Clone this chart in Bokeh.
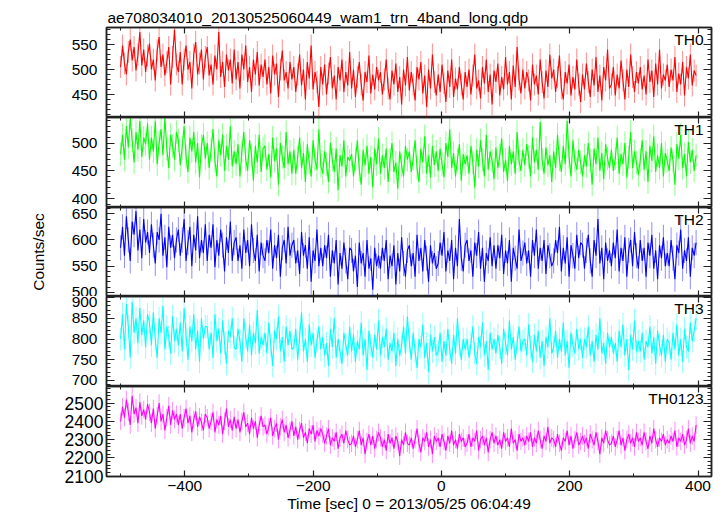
from bokeh.plotting import figure
from bokeh.layouts import column
from bokeh.models import (Range1d, LinearAxis, SingleIntervalTicker, Label,
                          ColumnDataSource)
from bokeh.embed import file_html
from bokeh.resources import INLINE

# ---------------- data ----------------
TITLE = "ae708034010_20130525060449_wam1_trn_4band_long.qdp"
X_LABEL = "Time [sec] 0 = 2013/05/25 06:04:49"
Y_LABEL = "Counts/sec"
BANDS = ["TH0", "TH1", "TH2", "TH3", "TH0123"]
COLORS = ["#ff0000", "#00ff00", "#0000ff", "#00ffff", "#ff00ff"]

TIME_START = -500   # first bin (sec)
TIME_STEP = 3       # bin width used for the read-off values (sec)

TH0 = [505, 548, 512, 490, 535, 560, 518, 545, 498, 530, 575, 508, 540, 495, 528,
       552, 500, 520, 478, 538, 565, 505, 530, 488, 515, 545, 470, 525, 580, 510,
       495, 535, 470, 520, 548, 500, 515, 462, 530, 555, 490, 512, 540, 480, 525,
       545, 488, 510, 470, 528, 500, 575, 485, 515, 465, 530, 498, 520, 472, 540,
       480, 515, 462, 530, 500, 548, 475, 505, 455, 520, 490, 535, 468, 510, 485,
       520, 470, 505, 452, 528, 490, 512, 445, 500, 538, 478, 495, 462, 515, 480,
       505, 455, 490, 530, 468, 500, 440, 515, 482, 548, 460, 495, 475, 425, 505,
       470, 510, 450, 492, 525, 462, 488, 440, 505, 478, 520, 455, 495, 468, 535,
       462, 500, 445, 485, 515, 470, 438, 495, 475, 528, 452, 490, 460, 505, 478,
       495, 450, 480, 520, 462, 440, 498, 470, 512, 455, 485, 430, 500, 468, 525,
       458, 495, 470, 438, 505, 480, 515, 452, 488, 425, 500, 462, 530, 475, 448,
       490, 455, 510, 472, 435, 498, 465, 520, 445, 482, 460, 505, 470, 440, 495,
       465, 500, 450, 488, 530, 462, 478, 442, 505, 472, 520, 455, 490, 430, 498,
       475, 512, 448, 485, 460, 525, 470, 495, 440, 508, 465, 545, 480, 452, 500,
       462, 495, 478, 438, 510, 470, 488, 450, 520, 475, 442, 498, 465, 530, 482,
       500, 455, 485, 528, 462, 440, 495, 472, 510, 448, 485, 460, 520, 470, 435,
       490, 460, 512, 475, 445, 500, 468, 525, 455, 488, 438, 505, 478, 540, 462,
       470, 505, 448, 490, 462, 518, 478, 440, 500, 465, 530, 485, 455, 495, 472,
       505, 460, 488, 450, 520, 475, 498, 445, 512, 470, 540, 462, 490, 478, 510,
       465, 500, 478, 525, 455, 492, 470, 515, 448, 505, 482, 530, 468, 498, 488]

TH1 = [480, 515, 470, 530, 492, 545, 505, 465, 520, 488, 540, 475, 510, 498, 535,
       470, 510, 485, 540, 462, 500, 525, 478, 545, 490, 455, 515, 495, 470, 520,
       505, 460, 492, 530, 475, 448, 510, 485, 520, 465, 500, 438, 495, 515, 472,
       500, 455, 488, 525, 468, 440, 505, 478, 515, 450, 495, 470, 530, 458, 485,
       462, 498, 440, 485, 520, 470, 450, 505, 478, 432, 495, 465, 515, 448, 490,
       495, 452, 480, 438, 510, 468, 490, 425, 500, 475, 455, 520, 462, 485, 445,
       488, 445, 475, 510, 455, 482, 430, 498, 465, 440, 505, 470, 452, 525, 460,
       445, 485, 462, 430, 500, 470, 448, 490, 415, 478, 458, 505, 440, 475, 468,
       480, 440, 470, 505, 452, 425, 488, 460, 495, 445, 475, 420, 490, 462, 508,
       445, 478, 455, 490, 430, 470, 500, 448, 465, 418, 485, 460, 440, 495, 470,
       485, 448, 472, 505, 455, 430, 490, 465, 512, 445, 478, 438, 495, 460, 485,
       450, 490, 462, 438, 500, 475, 525, 455, 482, 440, 470, 498, 432, 480, 462,
       478, 445, 495, 465, 420, 488, 458, 505, 470, 440, 515, 452, 485, 468, 435,
       492, 455, 478, 508, 448, 470, 432, 495, 462, 485, 445, 520, 468, 450, 488,
       460, 498, 475, 440, 510, 465, 488, 452, 538, 470, 445, 492, 460, 478, 430,
       485, 455, 515, 470, 448, 495, 462, 540, 475, 440, 505, 468, 452, 488, 465,
       440, 478, 458, 500, 468, 425, 490, 462, 510, 450, 482, 435, 498, 472, 455,
       488, 450, 472, 510, 445, 480, 462, 500, 438, 475, 520, 455, 485, 465, 442,
       470, 505, 452, 485, 430, 495, 468, 512, 448, 478, 455, 500, 440, 482, 468,
       450, 492, 468, 425, 498, 472, 515, 455, 480, 440, 502, 465, 488, 450, 478]

TH2 = [585, 625, 570, 645, 600, 560, 635, 610, 655, 580, 620, 565, 640, 595, 615,
       575, 630, 590, 555, 615, 600, 650, 570, 605, 548, 625, 585, 610, 565, 600,
       620, 570, 600, 640, 560, 595, 625, 550, 610, 580, 645, 565, 600, 575, 630,
       560, 610, 585, 630, 548, 600, 570, 620, 590, 540, 605, 575, 635, 560, 595,
       605, 560, 590, 545, 620, 575, 600, 550, 630, 580, 560, 610, 540, 595, 570,
       560, 600, 575, 620, 545, 590, 565, 610, 530, 585, 600, 555, 625, 570, 590,
       600, 555, 580, 535, 615, 570, 590, 545, 605, 520, 580, 560, 620, 550, 585,
       550, 590, 565, 610, 530, 580, 555, 600, 515, 575, 545, 595, 560, 525, 585,
       580, 540, 570, 510, 595, 555, 575, 530, 600, 545, 565, 505, 585, 550, 570,
       545, 585, 560, 600, 525, 570, 550, 590, 515, 575, 540, 605, 555, 530, 580,
       590, 550, 575, 530, 610, 560, 585, 540, 600, 565, 520, 590, 555, 575, 545,
       555, 595, 570, 615, 540, 580, 560, 600, 525, 585, 550, 640, 565, 540, 590,
       600, 560, 580, 530, 595, 570, 615, 545, 585, 520, 575, 560, 605, 550, 590,
       545, 590, 565, 610, 535, 580, 555, 600, 520, 585, 565, 545, 620, 560, 575,
       595, 555, 580, 530, 600, 570, 620, 545, 585, 560, 600, 535, 590, 570, 550,
       560, 600, 575, 625, 540, 585, 555, 605, 530, 590, 570, 545, 610, 565, 595,
       590, 545, 580, 610, 560, 530, 600, 570, 640, 555, 585, 525, 595, 560, 580,
       550, 595, 565, 620, 540, 585, 560, 605, 530, 580, 600, 550, 615, 570, 545,
       600, 560, 585, 530, 595, 570, 610, 545, 580, 525, 590, 565, 605, 550, 575,
       550, 600, 565, 525, 590, 575, 620, 545, 580, 560, 605, 530, 585, 570, 595]

TH3 = [800, 860, 775, 885, 830, 755, 890, 815, 850, 790, 875, 810, 845, 780, 860,
       840, 785, 865, 800, 755, 850, 815, 880, 775, 830, 805, 765, 855, 795, 825,
       785, 840, 770, 875, 810, 750, 830, 795, 860, 775, 820, 745, 850, 800, 830,
       830, 775, 815, 755, 860, 795, 825, 765, 845, 790, 740, 820, 805, 850, 780,
       775, 825, 795, 745, 850, 805, 770, 835, 760, 815, 790, 870, 765, 805, 785,
       815, 765, 840, 785, 735, 820, 800, 855, 770, 805, 745, 830, 785, 820, 775,
       780, 825, 750, 805, 865, 770, 800, 745, 835, 785, 815, 755, 795, 830, 775,
       805, 760, 790, 735, 825, 780, 850, 755, 800, 770, 740, 815, 785, 760, 830,
       770, 810, 745, 795, 775, 840, 760, 800, 725, 820, 785, 755, 810, 775, 845,
       760, 805, 780, 825, 750, 790, 770, 815, 735, 800, 760, 785, 830, 765, 855,
       795, 750, 815, 770, 730, 800, 780, 835, 755, 790, 720, 810, 770, 805, 760,
       770, 815, 745, 795, 760, 825, 775, 740, 810, 765, 850, 785, 750, 800, 775,
       800, 755, 790, 830, 765, 740, 805, 780, 840, 760, 795, 725, 815, 775, 800,
       765, 810, 780, 740, 825, 790, 760, 845, 775, 805, 750, 790, 830, 770, 795,
       800, 760, 835, 780, 745, 810, 770, 820, 755, 795, 735, 805, 780, 850, 765,
       780, 820, 755, 800, 770, 840, 760, 795, 730, 815, 785, 765, 825, 775, 800,
       755, 800, 780, 830, 760, 795, 745, 810, 775, 850, 765, 790, 740, 815, 780,
       805, 765, 790, 745, 820, 780, 835, 760, 800, 725, 810, 775, 845, 770, 795,
       770, 815, 750, 795, 780, 830, 765, 805, 740, 820, 785, 760, 810, 745, 800,
       790, 750, 815, 775, 835, 760, 800, 745, 825, 780, 770, 840, 795, 820, 850]

TH0123 = [2400, 2480, 2420, 2520, 2450, 2380, 2540, 2440, 2475, 2390, 2505, 2430, 2465, 2410, 2495,
          2450, 2390, 2470, 2360, 2430, 2500, 2400, 2440, 2350, 2420, 2485, 2380, 2460, 2410, 2440,
          2380, 2440, 2360, 2420, 2470, 2390, 2430, 2340, 2410, 2455, 2370, 2425, 2395, 2350, 2440,
          2420, 2360, 2400, 2450, 2340, 2410, 2380, 2430, 2330, 2400, 2470, 2370, 2410, 2350, 2425,
          2360, 2410, 2340, 2400, 2450, 2370, 2390, 2330, 2420, 2360, 2400, 2310, 2380, 2430, 2370,
          2380, 2330, 2370, 2420, 2320, 2360, 2390, 2300, 2370, 2410, 2340, 2380, 2310, 2350, 2400,
          2320, 2370, 2300, 2350, 2390, 2310, 2340, 2280, 2360, 2330, 2380, 2290, 2350, 2320, 2360,
          2330, 2280, 2320, 2360, 2270, 2310, 2290, 2340, 2250, 2310, 2330, 2280, 2350, 2300, 2270,
          2280, 2320, 2260, 2300, 2350, 2270, 2310, 2220, 2290, 2330, 2270, 2320, 2250, 2300, 2340,
          2310, 2260, 2300, 2240, 2330, 2280, 2310, 2250, 2320, 2290, 2210, 2300, 2270, 2340, 2280,
          2270, 2310, 2250, 2300, 2360, 2280, 2230, 2310, 2290, 2340, 2260, 2300, 2220, 2320, 2290,
          2310, 2260, 2330, 2290, 2240, 2320, 2280, 2350, 2270, 2300, 2250, 2330, 2290, 2310, 2260,
          2280, 2330, 2260, 2310, 2290, 2350, 2240, 2300, 2320, 2270, 2310, 2230, 2300, 2340, 2280,
          2320, 2270, 2300, 2250, 2340, 2290, 2310, 2260, 2360, 2280, 2300, 2240, 2330, 2290, 2310,
          2270, 2320, 2290, 2340, 2260, 2310, 2280, 2350, 2300, 2250, 2320, 2290, 2370, 2280, 2310,
          2300, 2260, 2330, 2280, 2240, 2310, 2290, 2350, 2270, 2320, 2250, 2300, 2340, 2270, 2290,
          2320, 2280, 2310, 2250, 2330, 2300, 2270, 2340, 2290, 2220, 2310, 2280, 2350, 2300, 2270,
          2280, 2320, 2260, 2300, 2350, 2270, 2310, 2240, 2300, 2330, 2280, 2310, 2260, 2340, 2290,
          2310, 2270, 2340, 2290, 2250, 2320, 2280, 2360, 2300, 2260, 2310, 2290, 2330, 2270, 2300,
          2280, 2320, 2290, 2350, 2260, 2310, 2290, 2330, 2270, 2300, 2360, 2280, 2320, 2290, 2380]

SERIES = [TH0, TH1, TH2, TH3, TH0123]
ERRORS = [22, 21, 24, 28, 48]          # 1-sigma error bar half-length (counts/sec)

X_RANGE = (-522, 421)
X_TICK_STEP = 200
X_TICK_LABELS = {-400: "\u2212400", -200: "\u2212200"}
Y_RANGES = [(404, 584), (384, 546), (492, 662), (685, 903), (2098, 2591)]
Y_TICK_STEPS = [50, 50, 50, 50, 100]

# ---------------- styling ----------------
FONT = "Liberation Sans"
FS = "15.5px"
Y_LABEL_FS = ["15.5px", "15.5px", "15.5px", "15.5px", "17.5px"]
Y_LABEL_STANDOFF = [9, 9, 9, 9, 3]
AXIS_COLOR = "#222222"
FRAME_H = [90, 90, 89, 90, 90]
TOP_BORDER = 27
BOTTOM_BORDER = 40
LEFT_BORDER = 106
RIGHT_BORDER = 2
WIDTH = LEFT_BORDER + 605 + RIGHT_BORDER


def style_axis(ax, ticker, labels, major_len, minor_len, fs=FS):
    ax.ticker = ticker
    ax.axis_line_color = AXIS_COLOR
    ax.axis_line_width = 1.5
    ax.major_tick_in = major_len
    ax.major_tick_out = 0
    ax.minor_tick_in = minor_len
    ax.minor_tick_out = 0
    ax.major_tick_line_color = AXIS_COLOR
    ax.minor_tick_line_color = AXIS_COLOR
    ax.major_tick_line_width = 1.2
    ax.minor_tick_line_width = 1.0
    if labels:
        ax.major_label_text_font = FONT
        ax.major_label_text_font_size = fs
        ax.major_label_text_color = "black"
        ax.axis_label_text_font = FONT
        ax.axis_label_text_font_size = FS
        ax.axis_label_text_font_style = "normal"
        ax.axis_label_text_color = "black"
    else:
        ax.major_label_text_font_size = "0px"
        ax.major_label_standoff = 0


x_range = Range1d(*X_RANGE)
times = [TIME_START + i * TIME_STEP for i in range(len(TH0))]
figs = []
n = len(BANDS)
for i in range(n):
    first = i == 0
    last = i == n - 1
    yr = Y_RANGES[i]
    h = FRAME_H[i] + (TOP_BORDER if first else 0) + (BOTTOM_BORDER if last else 0)
    p = figure(width=WIDTH, height=h, x_range=x_range, y_range=Range1d(*yr),
               output_backend="svg", toolbar_location=None,
               x_axis_location=None, y_axis_location=None,
               min_border_left=LEFT_BORDER, min_border_right=RIGHT_BORDER,
               min_border_top=TOP_BORDER if first else 0,
               min_border_bottom=BOTTOM_BORDER if last else 0)
    p.grid.visible = False
    p.outline_line_color = AXIS_COLOR
    p.outline_line_width = 1.5
    p.background_fill_color = "white"
    p.border_fill_color = "white"

    if first:
        p.title.text = TITLE
        p.title.align = "left"
        p.title.offset = 1
        p.title.standoff = 3
        p.title.text_font = FONT
        p.title.text_font_size = FS
        p.title.text_font_style = "normal"
        p.title.text_color = "black"

    vals = SERIES[i]
    err = ERRORS[i]
    src = ColumnDataSource(dict(t=times, v=vals,
                                lo=[v - err for v in vals],
                                hi=[v + err for v in vals]))
    p.segment(x0="t", y0="lo", x1="t", y1="hi", source=src,
              line_color=COLORS[i], line_alpha=0.45, line_width=1)
    p.line(x="t", y="v", source=src, line_color=COLORS[i], line_width=1.1)

    # y axes (left with labels, right mirrored)
    left = LinearAxis()
    style_axis(left, SingleIntervalTicker(interval=Y_TICK_STEPS[i], num_minor_ticks=5),
               True, 8, 4, Y_LABEL_FS[i])
    left.major_label_standoff = Y_LABEL_STANDOFF[i]
    if i == 2:
        left.axis_label = Y_LABEL
        left.axis_label_standoff = 22
    p.add_layout(left, "left")
    right = LinearAxis()
    style_axis(right, SingleIntervalTicker(interval=Y_TICK_STEPS[i], num_minor_ticks=5),
               False, 8, 4)
    p.add_layout(right, "right")

    # x axes (top mirrored, bottom labelled only on last panel)
    top = LinearAxis()
    style_axis(top, SingleIntervalTicker(interval=X_TICK_STEP, num_minor_ticks=2),
               False, 6, 3)
    p.add_layout(top, "above")
    bottom = LinearAxis()
    style_axis(bottom, SingleIntervalTicker(interval=X_TICK_STEP, num_minor_ticks=2),
               last, 6, 3)
    if last:
        bottom.major_label_standoff = 4
        bottom.major_label_overrides = X_TICK_LABELS
        bottom.axis_label = X_LABEL
        bottom.axis_label_standoff = 1
    p.add_layout(bottom, "below")

    # band name inside the panel, top right
    p.add_layout(Label(x=X_RANGE[1], y=yr[1], x_offset=-8, y_offset=-3,
                       text=BANDS[i], text_align="right", text_baseline="top",
                       text_font=FONT, text_font_size=FS, text_color="black"))
    figs.append(p)

layout = column(*figs, spacing=0)
open("out.html", "w").write(file_html(layout, INLINE))
